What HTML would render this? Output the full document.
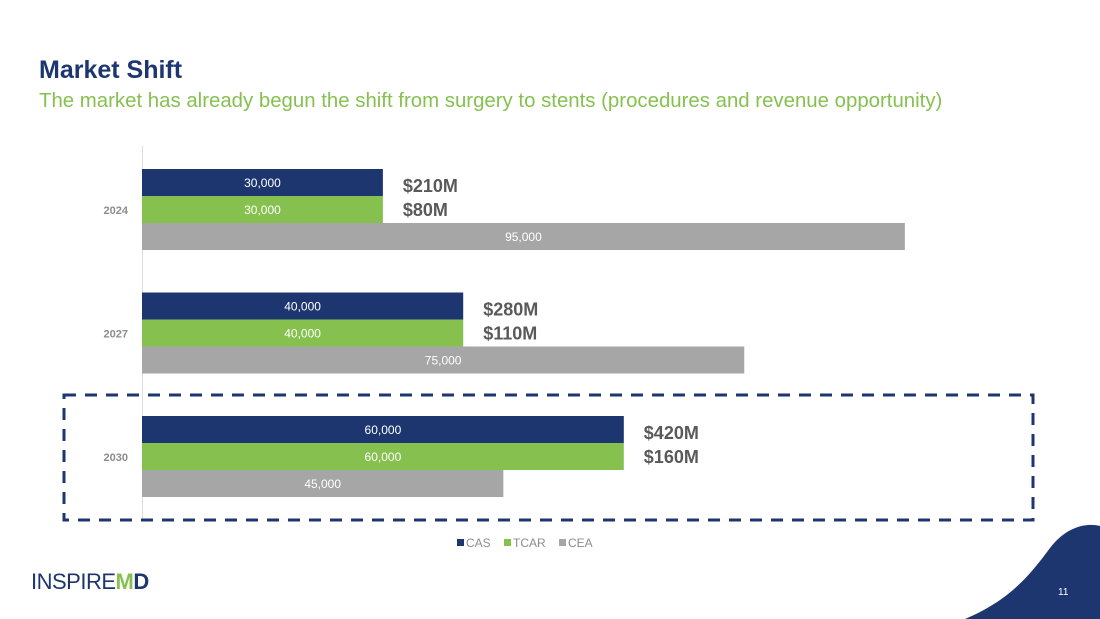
<!DOCTYPE html>
<html><head><meta charset="utf-8"><style>
body{margin:0;width:1100px;height:619px;overflow:hidden;background:#fff;font-family:"Liberation Sans",sans-serif;position:relative}
.t{position:absolute;white-space:nowrap}
</style></head><body>
<div class="t" style="left:39px;top:56px;font-size:25px;font-weight:bold;color:#1e3670">Market Shift</div>
<div class="t" style="left:39px;top:90px;font-size:20.4px;color:#86c150">The market has already begun the shift from surgery to stents (procedures and revenue opportunity)</div>
<svg width="1100" height="619" style="position:absolute;left:0;top:0" id="chart">
<line x1="142.5" y1="146" x2="142.5" y2="520" stroke="#ddd"/>
<rect x="64" y="395" width="969" height="125" fill="none" stroke="#1e3670" stroke-width="3" stroke-dasharray="12,9"/>
<path d="M965 619 C1010 600 1030 575 1050 548 C1065 528 1085 522 1100 526 L1100 619 Z" fill="#1e3670"/>
<text x="1058" y="595" fill="#fff" font-size="10">11</text>
<g id="bars"></g>
</svg>
<div class="t" style="left:31px;top:569px;font-size:22px;color:#1e3670;letter-spacing:-0.5px">INSPIRE<span style="color:#86c150;font-weight:bold">M</span><span style="font-weight:bold">D</span></div>
<script>
const years=["2024","2027","2030"];
const cas=[30000,40000,60000];
const tcar=[30000,40000,60000];
const cea=[95000,75000,45000];
const rev1=["$210M","$280M","$420M"];
const rev2=["$80M","$110M","$160M"];
const series=[{n:"CAS",v:cas,c:"#1e3670"},{n:"TCAR",v:tcar,c:"#86c150"},{n:"CEA",v:cea,c:"#a6a6a6"}];
const NS="http://www.w3.org/2000/svg";
const g=document.getElementById("bars");
const x=v=>142+v*0.00803;
const y0=i=>169+i*123.5;
function mk(tag,a,txt){const e=document.createElementNS(NS,tag);for(const k in a)e.setAttribute(k,a[k]);if(txt!==undefined)e.textContent=txt;g.appendChild(e);return e;}
years.forEach((yr,i)=>{
  const lab=mk("text",{x:128,y:y0(i)+45,"text-anchor":"end","font-size":11,"font-weight":"bold",fill:"#8c8c8c"},yr);
  
  
  series.forEach((s,j)=>{
    const yy=y0(i)+j*27;
    const r=mk("rect",{x:142,y:yy,width:x(s.v[i])-142,height:27,fill:s.c});
    
    
    const t=mk("text",{x:(142+x(s.v[i]))/2,y:yy+18,"text-anchor":"middle","font-size":12,fill:"#fff"},s.v[i].toLocaleString("en-US"));
    
    
  });
  const r1=mk("text",{x:x(cas[i])+20,y:y0(i)+23,"font-size":18,"font-weight":"bold",fill:"#595959"},rev1[i]);
  
  
  const r2=mk("text",{x:x(tcar[i])+20,y:y0(i)+47,"font-size":18,"font-weight":"bold",fill:"#595959"},rev2[i]);
  
  
});
let lx=457;
series.forEach(s=>{
  const sq=mk("rect",{x:lx,y:539,width:7,height:7,fill:s.c});
  
  
  const t=mk("text",{x:lx+9,y:547,"font-size":12,fill:"#8c8c8c"},s.n);
  
  
  lx+=9+s.n.length*8+14;
});
</script>
</body></html>
